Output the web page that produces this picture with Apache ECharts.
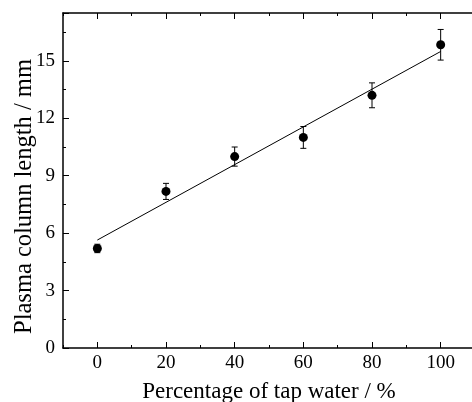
<!DOCTYPE html>
<html>
<head>
<meta charset="utf-8">
<script src="https://cdn.jsdelivr.net/npm/echarts@6/dist/echarts.min.js"></script>
<style>html,body{margin:0;padding:0;background:#fff}#c{width:472px;height:402px}</style>
</head>
<body>
<div id="c"></div>
<script>
const xValues = [0, 20, 40, 60, 80, 100];
const yValues = [5.2, 8.18, 10.0, 11.0, 13.2, 15.84];
const yErrors = [0.22, 0.42, 0.5, 0.57, 0.65, 0.8];
const fitX = [0, 100];
const fitY = [5.64, 15.49];
const xTicks = [0, 20, 40, 60, 80, 100];
const yTicks = [0, 3, 6, 9, 12, 15];

const FONT = '"Liberation Serif", "Times New Roman", serif';
const chart = echarts.init(document.getElementById('c'));
const errData = xValues.map((x, i) => [x, yValues[i] - yErrors[i], yValues[i] + yErrors[i]]);

const lineStyle = { color: '#000', width: 1.5 };
const tickStyle = { color: '#000', width: 1 };

const xMajor = (position, withLabels) => ({
  type: 'value', position, min: -10, max: 110, interval: 10,
  axisLine: { show: true, onZero: false, lineStyle },
  axisTick: { show: true, inside: true, length: 6, lineStyle: tickStyle, customValues: xTicks },
  axisLabel: withLabels ? {
    show: true, color: '#000', fontFamily: FONT, fontSize: 19, margin: 6, customValues: xTicks
  } : { show: false },
  splitLine: { show: false }
});
const xMinor = (position) => ({
  type: 'value', position, min: -10, max: 110, interval: 10,
  axisLine: { show: false, onZero: false },
  axisTick: { show: true, inside: true, length: 3, lineStyle: tickStyle },
  axisLabel: { show: false },
  splitLine: { show: false }
});

chart.setOption({
  animation: false,
  grid: { left: 63, top: 13, width: 412, bottom: 54, containLabel: false, outerBoundsMode: 'none' },
  xAxis: [
    Object.assign(xMajor('bottom', true), {
      name: 'Percentage of tap water / %', nameLocation: 'middle', nameGap: 32, nameMoveOverlap: false,
      nameTextStyle: { color: '#000', fontFamily: FONT, fontSize: 23 }
    }),
    xMajor('top', false),
    xMinor('bottom'),
    xMinor('top')
  ],
  yAxis: [{
    type: 'value', min: 0, max: 17.5, interval: 3,
    axisLine: { show: true, onZero: false, lineStyle },
    axisTick: { show: true, inside: true, length: 6, lineStyle: tickStyle },
    minorTick: { show: true, splitNumber: 2, length: 3, lineStyle: tickStyle },
    axisLabel: {
      color: '#000', fontFamily: FONT, fontSize: 19, margin: 8, customValues: yTicks
    },
    splitLine: { show: false },
    name: 'Plasma column length / mm', nameLocation: 'middle', nameGap: 26, nameMoveOverlap: false,
    nameTextStyle: { color: '#000', fontFamily: FONT, fontSize: 24.5, padding: [0, 32, 0, 0] }
  }],
  series: [{
    type: 'line',
    data: fitX.map((x, i) => [x, fitY[i]]),
    symbol: 'none',
    lineStyle: { color: '#000', width: 1 },
    z: 2
  }, {
    type: 'custom',
    data: errData,
    renderItem: (params, api) => {
      const x = api.value(0);
      const lo = api.coord([x, api.value(1)]);
      const hi = api.coord([x, api.value(2)]);
      const w = 3;
      const style = { stroke: '#000', lineWidth: 1 };
      return {
        type: 'group',
        children: [
          { type: 'line', shape: { x1: lo[0], y1: lo[1], x2: hi[0], y2: hi[1] }, style },
          { type: 'line', shape: { x1: lo[0] - w, y1: lo[1], x2: lo[0] + w, y2: lo[1] }, style },
          { type: 'line', shape: { x1: hi[0] - w, y1: hi[1], x2: hi[0] + w, y2: hi[1] }, style }
        ]
      };
    },
    z: 3
  }, {
    type: 'scatter',
    data: xValues.map((x, i) => [x, yValues[i]]),
    symbol: 'circle', symbolSize: 9,
    itemStyle: { color: '#000', opacity: 1 },
    z: 4
  }]
});
</script>
</body>
</html>
